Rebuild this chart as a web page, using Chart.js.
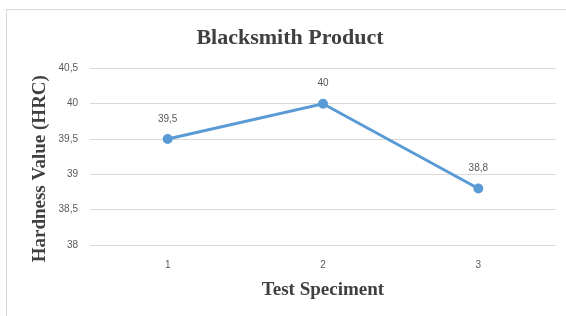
<!DOCTYPE html>
<html>
<head>
<meta charset="utf-8">
<script src="https://cdn.jsdelivr.net/npm/chart.js@4/dist/chart.umd.min.js"></script>
<style>
  html, body { margin: 0; padding: 0; background: #fff; }
  #wrap { position: relative; width: 566px; height: 316px; overflow: hidden; }
  #frame { position: absolute; left: 6px; top: 9px; width: 700px; height: 400px;
           border-top: 1px solid #d9d9d9; border-left: 1px solid #d9d9d9; }
  canvas { position: absolute; left: 0; top: 0; }
</style>
</head>
<body>
<div id="wrap">
  <div id="frame"></div>
  <canvas id="c" width="566" height="316"></canvas>
</div>
<script>
const categories = ["1", "2", "3"];
const hardness = [39.5, 40, 38.8];
const dataLabels = ["39,5", "40", "38,8"];
const yMin = 38, yMax = 40.5, yStep = 0.5;
const chartTitle = 'Blacksmith Product';
const xTitle = 'Test Speciment';
const yTitle = 'Hardness Value (HRC)';

const labelPlugin = {
  id: 'pointLabels',
  afterDatasetsDraw(chart) {
    const ctx = chart.ctx;
    const meta = chart.getDatasetMeta(0);
    ctx.save();
    ctx.font = '10px "Liberation Sans"';
    ctx.fillStyle = '#595959';
    ctx.textAlign = 'center';
    ctx.textBaseline = 'middle';
    meta.data.forEach((pt, i) => {
      ctx.fillText(dataLabels[i], pt.x, pt.y - 20);
    });
    ctx.restore();
  }
};

const yTitlePlugin = {
  id: 'yTitle',
  afterDraw(chart) {
    const ctx = chart.ctx;
    const a = chart.chartArea;
    ctx.save();
    ctx.translate(40, (a.top + a.bottom) / 2 + 12);
    ctx.rotate(-Math.PI / 2);
    ctx.font = 'bold 19px "Liberation Serif"';
    ctx.fillStyle = '#404040';
    ctx.textAlign = 'center';
    ctx.textBaseline = 'middle';
    ctx.fillText(yTitle, 0, 0);
    ctx.restore();
  }
};

new Chart(document.getElementById('c'), {
  type: 'line',
  data: {
    labels: categories,
    datasets: [{
      data: hardness,
      borderColor: '#5B9BD5',
      backgroundColor: '#5B9BD5',
      borderWidth: 3,
      pointRadius: 3.5,
      pointHoverRadius: 3.5,
      tension: 0
    }]
  },
  options: {
    responsive: false,
    animation: false,
    layout: { padding: { left: 24, right: 10, top: 9, bottom: 0 } },
    plugins: {
      legend: { display: false },
      tooltip: { enabled: false },
      title: {
        display: true,
        text: chartTitle,
        color: '#404040',
        font: { family: '"Liberation Serif"', size: 22, weight: 'bold' },
        padding: { top: 16, bottom: 17 }
      }
    },
    scales: {
      x: {
        offset: true,
        grid: { display: false, drawTicks: false },
        border: { display: false },
        ticks: { color: '#595959', font: { family: '"Liberation Sans"', size: 10 }, padding: 14 },
        title: {
          display: true,
          text: xTitle,
          color: '#404040',
          font: { family: '"Liberation Serif"', size: 19, weight: 'bold' },
          padding: { top: 15, bottom: 15 }
        },
        afterFit(scale) { scale.height = 71; }
      },
      y: {
        min: yMin,
        max: yMax,
        grid: { color: '#d9d9d9', drawTicks: false },
        border: { display: false },
        ticks: {
          stepSize: yStep,
          color: '#595959',
          font: { family: '"Liberation Sans"', size: 10 },
          padding: 12,
          callback: v => String(v).replace('.', ',')
        },
        afterFit(scale) { scale.width = 66; }
      }
    }
  },
  plugins: [labelPlugin, yTitlePlugin]
});
</script>
</body>
</html>
